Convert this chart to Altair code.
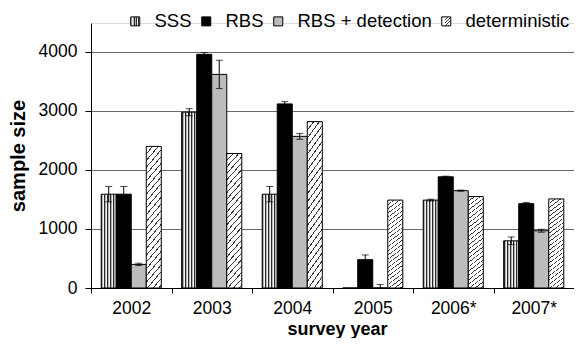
import altair as alt
import pandas as pd

years = ["2002", "2003", "2004", "2005", "2006*", "2007*"]
series = ["SSS", "RBS", "RBS + detection", "deterministic"]

sss = [1590, 2980, 1590, 0, 1490, 800]
sss_err = [130, 60, 130, 0, 15, 65]
rbs = [1590, 3960, 3120, 480, 1885, 1430]
rbs_err = [130, 30, 40, 80, 10, 20]
rbs_det = [400, 3620, 2570, 0, 1650, 970]
rbs_det_err = [20, 240, 50, 60, 10, 25]
determ = [2400, 2280, 2820, 1490, 1550, 1510]
determ_err = [0, 0, 0, 0, 0, 0]

rows = []
for i, yr in enumerate(years):
    for s, vals, errs in zip(series, [sss, rbs, rbs_det, determ],
                             [sss_err, rbs_err, rbs_det_err, determ_err]):
        v, e = vals[i], errs[i]
        rows.append({"year": yr, "series": s, "value": v,
                     "lo": max(v - e, 0), "hi": v + e, "err": e})
df = pd.DataFrame(rows)


def grad_expr(x2, y2, pattern, periods):
    """pattern: list of (fraction_end, color) for one period"""
    stops = []
    step = 1.0 / periods
    for k in range(periods):
        prev = 0.0
        for frac, col in pattern:
            a = (k + prev) * step
            b = (k + frac) * step
            stops.append("{offset:%.5f,color:'%s'}" % (a, col))
            stops.append("{offset:%.5f,color:'%s'}" % (b, col))
            prev = frac
    return "{gradient:'linear',x1:0,y1:0,x2:%g,y2:%g,stops:[%s]}" % (
        x2, y2, ",".join(stops))


sss_fill = grad_expr(1, 0, [(0.35, "#2a2a2a"), (0.65, "#b4b4b4"), (1.0, "#f4f4f4")], 5)
det_fill = grad_expr(1, 8, [(0.2, "#3a3a3a"), (1.0, "#ffffff")], 170)

FONT = "Liberation Sans"
W, H = 483, 265

y_scale = alt.Scale(domain=[0, 4491.5], nice=False)
y_axis = alt.Axis(values=[0, 1000, 2000, 3000, 4000], format="d", grid=True,
                  gridColor="#6a6a6a", gridWidth=1, domainColor="black",
                  tickColor="black", tickSize=6, labelFontSize=17.5, labelPadding=8,
                  labelColor="black", title="sample size", titleFontSize=20,
                  titleFontWeight="bold", titleColor="black",
                  titleX=-67, titleY=H / 2, titleBaseline="alphabetic",
                  titleAngle=270, titleAlign="center")
x_axis = alt.Axis(title="survey year", labelAngle=0, tickBand="extent", tickSize=5,
                  domainColor="black", tickColor="black", labelFontSize=17.5,
                  labelPadding=6, labelColor="black", titleFontSize=18,
                  titleFontWeight="bold", titleColor="black",
                  titleX=246, titleY=46, titleBaseline="alphabetic",
                  titleAlign="center")

base = alt.Chart(df).encode(
    x=alt.X("year:N", sort=years, scale=alt.Scale(paddingInner=0, paddingOuter=0), axis=x_axis),
    xOffset=alt.XOffset("series:N", sort=series,
                        scale=alt.Scale(paddingInner=0, paddingOuter=0.68)),
)

bars = base.mark_bar(stroke="black", strokeWidth=1).encode(
    y=alt.Y("value:Q", scale=y_scale, axis=y_axis),
    fill=alt.Fill("series:N", sort=series,
                  scale=alt.Scale(domain=series,
                                  range=[alt.ExprRef(expr=sss_fill), "#000000",
                                         "#bcbcbc", alt.ExprRef(expr=det_fill)]),
                  legend=alt.Legend(title=None, orient="none", legendX=35, legendY=-11,
                                    direction="horizontal", columns=4, padding=0,
                                    labelFontSize=18.5, labelFont=FONT, labelColor="black",
                                    symbolType="square", symbolSize=81,
                                    symbolStrokeColor="black", symbolStrokeWidth=1,
                                    labelOffset=10, columnPadding=5)),
)

errs = base.transform_filter("datum.err > 0")
rule = errs.mark_rule(color="black", strokeWidth=1).encode(
    y=alt.Y("lo:Q", scale=y_scale, axis=y_axis), y2="hi:Q")
tick_hi = errs.mark_tick(color="black", size=7, thickness=1).encode(
    y=alt.Y("hi:Q", scale=y_scale, axis=y_axis))
tick_lo = errs.mark_tick(color="black", size=7, thickness=1).encode(
    y=alt.Y("lo:Q", scale=y_scale, axis=y_axis))

chart = alt.layer(bars, rule, tick_hi, tick_lo).properties(
    width=W, height=H,
    autosize=alt.AutoSizeParams(type="none"),
    padding={"left": 83, "top": 15, "right": 0, "bottom": 50},
).configure_view(strokeWidth=0).configure(font=FONT)

chart.save("out.html", embed_options={"renderer": "svg", "actions": False})
